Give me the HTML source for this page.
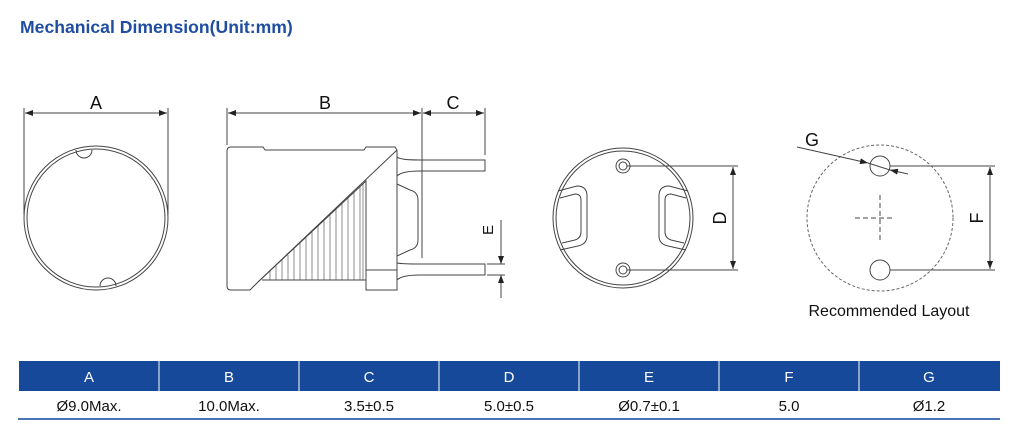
<!DOCTYPE html>
<html><head><style>
body{margin:0;width:1024px;height:440px;background:#fff;overflow:hidden;font-family:"Liberation Sans",sans-serif}
.t{position:absolute;left:20px;top:17px;font-weight:bold;font-size:17.6px;color:#1f4ea1}
svg{position:absolute;left:0;top:0}
</style></head><body>
<div class="t">Mechanical Dimension(Unit:mm)</div>
<svg width="1024" height="440" viewBox="0 0 1024 440">
<defs>
<marker id="a" markerWidth="8" markerHeight="6" refX="8" refY="3" orient="auto-start-reverse" markerUnits="userSpaceOnUse"><path d="M0,0L8,3L0,6z" fill="#222"/></marker>
</defs>
<g fill="none" stroke="#444" stroke-width="1">
<circle cx="96" cy="218" r="72"/>
<path d="M76,150 A8,8 0 0 0 92,150" />
<path d="M100,286 A8,8 0 0 1 116,286" />
<circle cx="96" cy="218" r="69"/>
<line x1="24" y1="108" x2="24" y2="215"/><line x1="168" y1="108" x2="168" y2="215"/>
<line x1="25" y1="113" x2="167" y2="113" marker-start="url(#a)" marker-end="url(#a)"/>
<path d="M231,147 H263 L265,150 H364 L366,147 H395 L397,150 V290 H366 V270 M227,151 Q227,147 231,147 M227,151 V286 Q227,290 231,290 H250 L258,282 L397,150"/>
<path d="M258,282 L366,181 V280 H262"/>
<path d="M366,270 H397"/>
<path d="M397,157 Q400,160 420,160 H485 V171 H420 Q402,171 397,176 V184 L410,190 Q418,192 418,200 V240 Q418,248 410,250 L397,256 V263 Q402,264 420,264 H485 V275 H420 Q402,275 397,280"/>
<g stroke-width="0.6">
<path d="M270,271V280M276,266V280M282,260V280M288,255V280M294,249V280M300,243V280M306,238V280M312,232V280M318,226V280M324,221V280M330,215V280M336,209V280M342,204V280M348,198V280M354,192V280M360,187V280M363,184V280"/>
</g>
<line x1="227" y1="108" x2="227" y2="145"/><line x1="422" y1="108" x2="422" y2="258"/><line x1="485" y1="108" x2="485" y2="155"/>
<line x1="228" y1="113" x2="421" y2="113" marker-start="url(#a)" marker-end="url(#a)"/>
<line x1="423" y1="113" x2="484" y2="113" marker-start="url(#a)" marker-end="url(#a)"/>
<line x1="501" y1="220" x2="501" y2="264" marker-end="url(#a)"/>
<line x1="501" y1="298" x2="501" y2="275" marker-end="url(#a)"/>
<line x1="487" y1="264" x2="505" y2="264"/><line x1="487" y1="275" x2="505" y2="275"/>
<circle cx="623" cy="218" r="70"/>
<circle cx="623" cy="218" r="67"/>
<circle cx="623" cy="166" r="7"/><circle cx="623" cy="166" r="4"/>
<circle cx="623" cy="270" r="7"/><circle cx="623" cy="270" r="4"/>
<path d="M558,191 L577,186 Q587,186 587,196 V236 Q587,244 578,246 L560,250"/>
<path d="M560,198 L575,194 Q581,194 581,200 V232 Q581,238 575,240 L562,243"/>
<path d="M688,191 L669,186 Q659,186 659,196 V236 Q659,244 668,246 L686,250"/>
<path d="M686,198 L671,194 Q665,194 665,200 V232 Q665,238 671,240 L684,243"/>
<line x1="627" y1="166" x2="738" y2="166"/><line x1="627" y1="270" x2="738" y2="270"/>
<line x1="733" y1="167" x2="733" y2="269" marker-start="url(#a)" marker-end="url(#a)"/>
<circle cx="880" cy="218" r="73" stroke-dasharray="3,2" stroke="#666"/>
<circle cx="880" cy="166" r="10"/><circle cx="880" cy="270" r="10"/>
<path d="M855,218H892M880,195V242" stroke-dasharray="5,3"/>
<line x1="890" y1="166" x2="995" y2="166"/><line x1="890" y1="270" x2="995" y2="270"/>
<line x1="990" y1="167" x2="990" y2="269" marker-start="url(#a)" marker-end="url(#a)"/>
<line x1="797" y1="147" x2="868" y2="163" marker-end="url(#a)"/>
<line x1="908" y1="174" x2="890" y2="170" marker-end="url(#a)"/>
<line x1="868" y1="163" x2="890" y2="170"/>
</g>
<g font-family="Liberation Sans,sans-serif" font-size="18" fill="#111" text-anchor="middle">
<text x="96" y="109">A</text><text x="325" y="109">B</text><text x="453" y="109">C</text>
<text x="812" y="146">G</text>
<text transform="translate(726,218) rotate(-90)">D</text>
<text transform="translate(983,218) rotate(-90)">F</text>
<text transform="translate(493,230) rotate(-90)" font-size="15">E</text>
<text x="889" y="316" font-size="16">Recommended Layout</text>
</g>
<rect x="19" y="361" width="981" height="30" fill="#17499a"/>
<g stroke="#fff" stroke-width="1"><path d="M159,361V391M299,361V391M439,361V391M579,361V391M719,361V391M859,361V391"/></g>
<line x1="18" y1="419" x2="1000" y2="419" stroke="#4a74b8" stroke-width="2"/>
<g font-family="Liberation Sans,sans-serif" font-size="15" text-anchor="middle">
<g fill="#fff"><text x="89" y="382">A</text><text x="229" y="382">B</text><text x="369" y="382">C</text><text x="509" y="382">D</text><text x="649" y="382">E</text><text x="789" y="382">F</text><text x="929" y="382">G</text></g>
<g fill="#111"><text x="89" y="411">Ø9.0Max.</text><text x="229" y="411">10.0Max.</text><text x="369" y="411">3.5±0.5</text><text x="509" y="411">5.0±0.5</text><text x="649" y="411">Ø0.7±0.1</text><text x="789" y="411">5.0</text><text x="929" y="411">Ø1.2</text></g>
</g>
</svg>
</body></html>
